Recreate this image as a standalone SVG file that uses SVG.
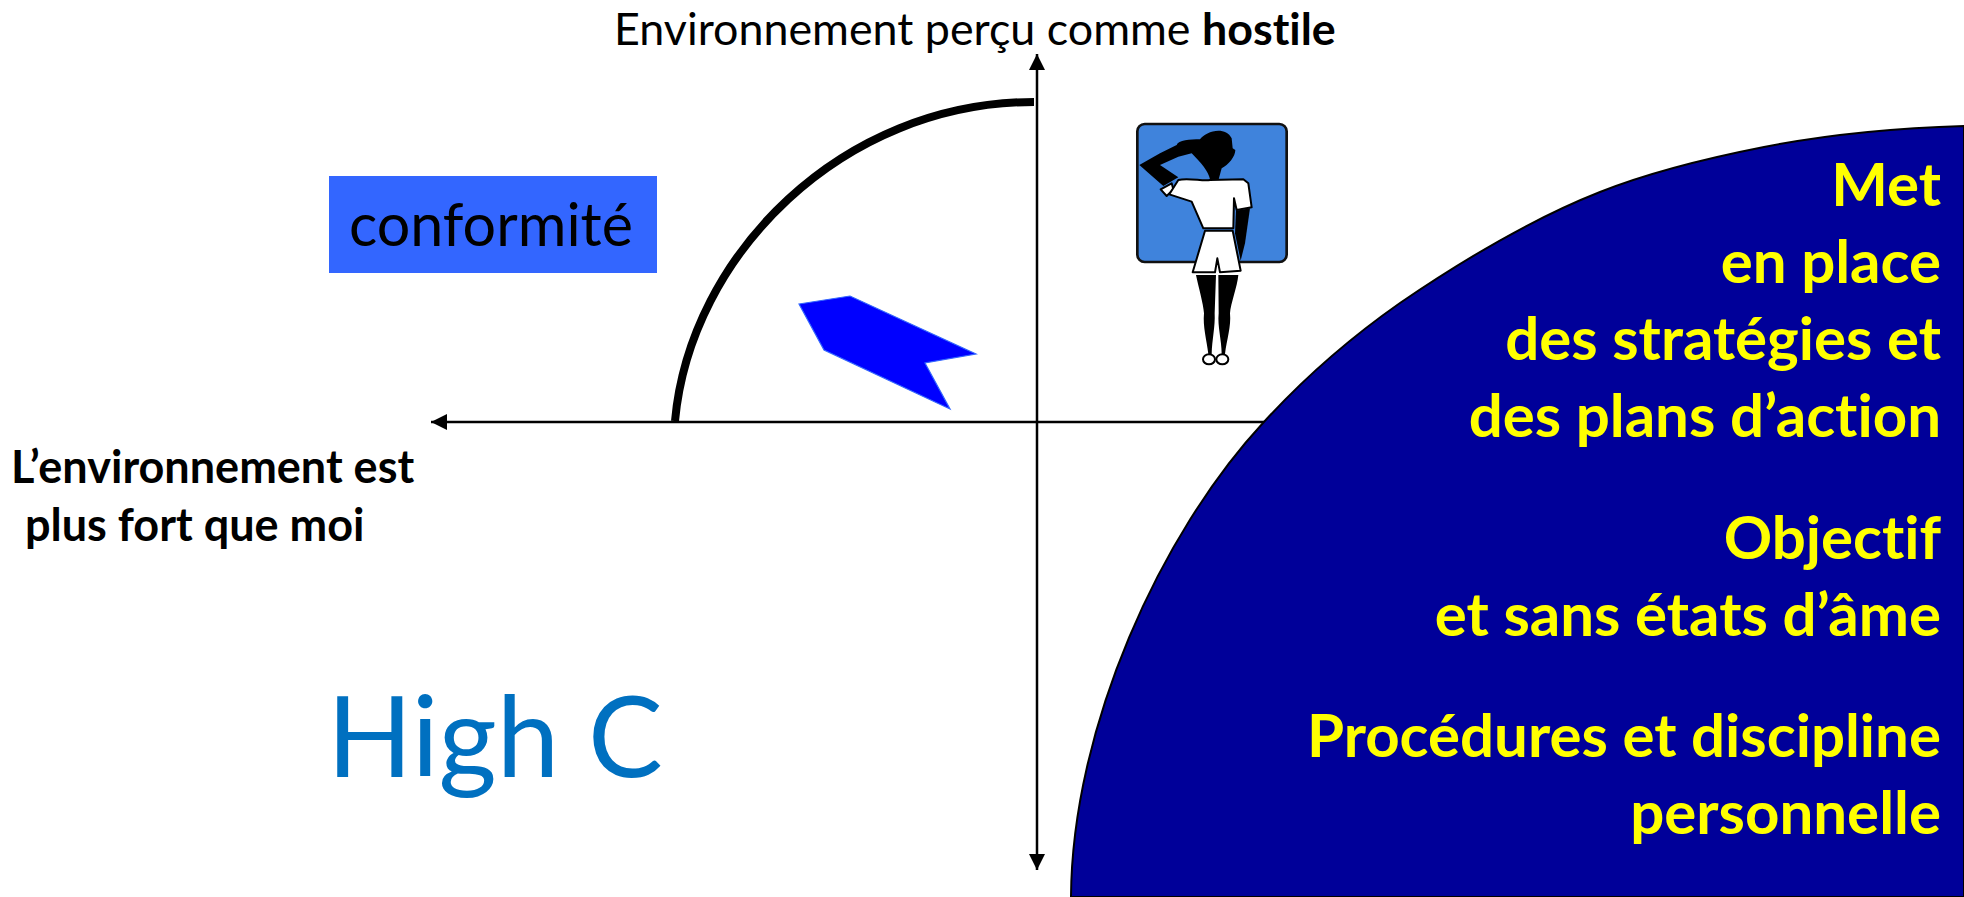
<svg xmlns="http://www.w3.org/2000/svg" width="1964" height="897" viewBox="0 0 1964 897">
<style>
text{font-variant-ligatures:none}
.y{font-family:Lato,"Liberation Sans",sans-serif;font-weight:700;font-size:60px;fill:#ffff00;text-anchor:end}
.k{font-family:Lato,"Liberation Sans",sans-serif;font-weight:700;font-size:45px;fill:#000}
.o{font-family:Lato,"Liberation Sans",sans-serif;fill:#000}
.ax{stroke:#000;stroke-width:2.5;fill:none}
.w{fill:#fff;stroke:#000;stroke-width:6;stroke-linejoin:round}
</style>
<defs>
<marker id="ah" markerUnits="userSpaceOnUse" markerWidth="16" markerHeight="16" refX="16" refY="8" orient="auto"><path d="M0 0L16 8L0 16Z" fill="#000"/></marker>
</defs>
<rect width="1964" height="897" fill="#fff"/>
<g id="connectors">
<line class="ax" x1="1037" y1="422" x2="1037" y2="54" marker-end="url(#ah)"/>
<line class="ax" x1="1037" y1="422" x2="1037" y2="870" marker-end="url(#ah)"/>
<line class="ax" x1="1300" y1="422" x2="431" y2="422" marker-end="url(#ah)"/>
</g>
<path id="arc" d="M675 421C690 255 842 102 1034 102" fill="none" stroke="#000" stroke-width="8"/>
<g id="arrow"><polygon points="799,304 850,296 976,354 925,363 950,409 824,350" fill="#0000ff" stroke="#3366ff" stroke-width="1.2"/></g>
<g id="conformite"><rect x="329" y="176" width="328" height="97" fill="#3366ff"/>
<text class="o" x="349" y="246" font-size="59.200">conformité</text></g>
<g id="soldier" transform="translate(1110 100) scale(.33333)">
<rect x="82" y="72" width="448" height="414" rx="22" fill="#3f83dc" stroke="#111" stroke-width="8"/>
<path d="M88 195L150 160L200 135C205 120 240 118 270 118C285 95 345 75 365 115L368 145L376 150C376 170 355 195 335 205L326 238L300 238C295 215 275 190 245 160L205 170L150 195L205 232L160 258Z" fill="#000"/>
<path d="M152 268L185 250L190 268L170 288Z" class="w"/>
<path d="M178 283L205 240C235 232 280 245 300 240L400 238L415 250L425 322L380 330L372 295L370 385L280 385L245 305Z" class="w"/>
<path d="M378 332L420 325L405 430L392 482L375 400Z" fill="#000"/>
<path d="M285 392L368 392L392 512L330 517L322 475L315 517L248 517Z" class="w"/>
<path d="M258 525L318 525L314 640C316 680 306 720 305 762L295 762C290 720 278 680 282 640C280 610 265 560 258 525ZM325 525L385 525C382 560 362 610 360 640C364 680 350 720 345 762L335 762C335 720 322 680 326 640Z" fill="#000"/>
<ellipse cx="297" cy="778" rx="18" ry="15" class="w"/>
<ellipse cx="337" cy="778" rx="18" ry="15" class="w"/>
</g>
<g id="panel"><path d="M1071 897C1072 727 1161 533 1263 423C1304 378 1350 338 1400 303C1463 260 1529 220 1600 192C1653 171 1708 158 1764 147C1830 134 1897 128 1964 126L1964 897Z" fill="#000099" stroke="#000" stroke-width="2"/>
<text class="y" x="1941" y="206">Met</text>
<text class="y" x="1941" y="283">en place</text>
<text class="y" x="1941" y="360">des stratégies et</text>
<text class="y" x="1941" y="437">des plans d’action</text>
<text class="y" x="1941" y="559">Objectif</text>
<text class="y" x="1941" y="636">et sans états d’âme</text>
<text class="y" x="1941" y="757">Procédures et discipline</text>
<text class="y" x="1941" y="834">personnelle</text></g>
<text class="o" x="614" y="45" font-size="44.800">Environnement perçu comme <tspan font-weight="700">hostile</tspan></text>
<text class="k" x="11" y="483">L’environnement est</text>
<text class="k" x="25" y="541">plus fort que moi</text>
<text x="327" y="777" font-family="Lato,'Liberation Sans',sans-serif" font-size="112" fill="#0070c0">High C</text>
</svg>
